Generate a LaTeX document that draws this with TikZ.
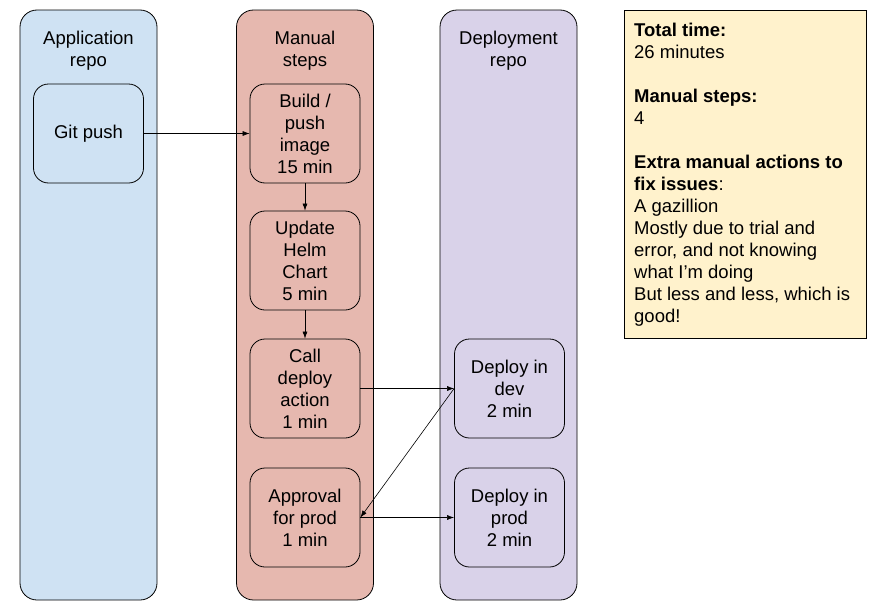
\documentclass[tikz,border=0pt]{standalone}
\usepackage{fontspec}
\setmainfont{Liberation Sans}
\usetikzlibrary{arrows.meta}
\definecolor{appblue}{HTML}{CFE2F3}
\definecolor{manualred}{HTML}{E6B8AF}
\definecolor{deploypurple}{HTML}{D9D2E9}
\definecolor{noteyellow}{HTML}{FFF2CC}
\tikzset{
  column/.style={draw, line width=0.8pt, rounded corners=17pt, minimum width=137pt, minimum height=590pt, inner sep=0pt},
  stepbox/.style={draw, line width=0.8pt, rounded corners=15pt, minimum width=110pt, minimum height=99pt, align=center, inner sep=2pt},
  coltitle/.style={align=center},
  flow/.style={-{Latex[length=7pt,width=5pt]}, line width=0.6pt}
}
\begin{document}
\begin{tikzpicture}[x=1pt, y=-1pt, font=\fontsize{18.5}{22}\selectfont]
\useasboundingbox (0,0) rectangle (880,613);

% Draw the three columns
\node[column, fill=appblue] (appcol) at (88.5,305) {};
\node[column, fill=manualred] (mancol) at (305,305) {};
\node[column, fill=deploypurple] (depcol) at (508.5,305) {};
\node[coltitle] (apptitle) at (88.5,51) {Application\\repo};
\node[coltitle] (mantitle) at (305,51) {Manual\\steps};
\node[coltitle] (deptitle) at (508.5,51) {Deployment\\repo};

% Steps
\node[stepbox] (gitpush) at (88.5,133.5) {Git push};
\node[stepbox] (build) at (305,133.5) {Build /\\push\\image\\15 min};
\node[stepbox] (helm) at (305,260.5) {Update\\Helm\\Chart\\5 min};
\node[stepbox] (call) at (305,388.5) {Call\\deploy\\action\\1 min};
\node[stepbox] (approval) at (305,517.5) {Approval\\for prod\\1 min};
\node[stepbox] (devdeploy) at (509.5,388.5) {Deploy in\\dev\\2 min};
\node[stepbox] (proddeploy) at (509.5,517.5) {Deploy in\\prod\\2 min};

% Arrows
\draw[flow] (gitpush.east) -- (build.west);
\draw[flow] (build.south) -- (helm.north);
\draw[flow] (helm.south) -- (call.north);
\draw[flow] (call.east) -- (devdeploy.west);
\draw[flow] (devdeploy.west) -- (approval.east);
\draw[flow] (approval.east) -- (proddeploy.west);

% Summary note
\node[draw, line width=0.8pt, fill=noteyellow, minimum width=242pt, minimum height=328pt, anchor=north west] (note) at (624,10) {};
\node[anchor=north west, align=left, inner sep=0pt] (notetext) at (634,23) {%
\textbf{Total time:}\\26 minutes\\[22pt]
\textbf{Manual steps:}\\4\\[22pt]
\textbf{Extra manual actions to}\\\textbf{fix issues}:\\A gazillion\\
Mostly due to trial and\\error, and not knowing\\what I’m doing\\
But less and less, which is\\good!};
\end{tikzpicture}
\end{document}
